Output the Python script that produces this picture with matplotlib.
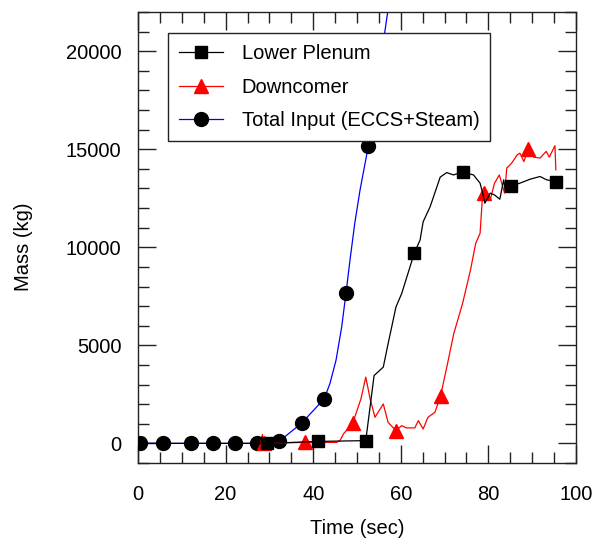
import matplotlib
matplotlib.use('Agg')
import matplotlib.pyplot as plt
from matplotlib.ticker import MultipleLocator

plt.rcParams['font.family'] = ['Liberation Sans', 'DejaVu Sans']

# Lower Plenum (black, squares)
lp_t = [0, 29.4, 41.2, 52.0, 53.9, 56.0, 57.1, 58.9, 60.2, 62.1, 63.1, 64.4, 65.1, 66.7,
        69.0, 70.5, 72.0, 74.1, 76.6, 78.1, 78.8, 79.2, 80.4, 81.4, 82.6, 83.5, 83.9,
        85.1, 87.2, 89.5, 91.8, 93.3, 95.4]
lp_m = [0, 0, 100, 140, 3460, 3890, 5080, 6960, 7640, 9000, 9720, 10370, 11300, 12070,
        13580, 13810, 13690, 13830, 13690, 13270, 12670, 12250, 12760, 12670, 12450, 13440, 12840,
        13100, 13270, 13470, 13610, 13440, 13350]
lp_mark = [0, 1, 2, 3, 10, 17, 27, 32]

# Downcomer (red, triangles)
dc_t = [28.0, 28.4, 28.8, 38.1, 45.3, 46.1, 46.9, 49.0, 50.9, 52.0, 53.0, 54.1, 56.0, 57.1,
        58.9, 60.2, 61.3, 63.2, 64.0, 65.1, 66.2, 67.8, 69.1, 70.5, 72.1, 74.1, 75.9, 77.1,
        78.1, 78.7, 79.0, 80.4, 81.4, 82.5, 83.7, 84.2, 85.3, 86.6, 87.2, 88.1, 89.1, 90.3,
        91.8, 93.2, 93.9, 95.2, 95.4]
dc_m = [0, 450, 0, 50, 50, 140, 480, 1020, 2270, 3380, 2270, 1330, 2010, 1070,
        650, 905, 790, 790, 1160, 735, 1330, 1590, 2440, 3890, 5600, 7130, 8830, 10200,
        10710, 12760, 12790, 12410, 13270, 13690, 12760, 14040, 14290, 14720, 14800, 14370, 15020, 14600,
        14550, 14890, 14600, 15180, 13950]
dc_mark = [2, 3, 7, 14, 22, 30, 40]

# Total Input (ECCS+Steam) (blue, circles)
ti_t = [0, 0.5, 5.7, 12.0, 17.2, 22.1, 27.1, 32.2, 37.4, 42.5, 43.8, 45.2, 46.5, 47.5,
        48.4, 49.5, 50.7, 52.6, 54.6, 56.6, 58.0]
ti_m = [0, 0, 0, 0, 0, 0, 0, 100, 1040, 2270, 3040, 4230, 5930, 7690,
        9350, 11240, 12930, 15180, 18300, 21370, 23500]
ti_mark = [1, 2, 3, 4, 5, 6, 7, 8, 9, 13, 17]

fig = plt.figure(figsize=(6.03, 5.47), dpi=100)
ax = fig.add_axes([0.2289, 0.1536, 0.7263, 0.8245])

ax.plot(ti_t, ti_m, color='blue', lw=0.9, marker='o', ms=10, mfc='black', mec='black',
        markevery=ti_mark, label='Total Input (ECCS+Steam)', zorder=2)
ax.plot(dc_t, dc_m, color='red', lw=0.9, marker='^', ms=9.5, mfc='red', mec='red',
        markevery=dc_mark, label='Downcomer', zorder=3)
ax.plot(lp_t, lp_m, color='black', lw=0.9, marker='s', ms=9, mfc='black', mec='black',
        markevery=lp_mark, label='Lower Plenum', zorder=4)

ax.set_xlim(0, 100)
ax.set_ylim(-1000, 22000)
ax.xaxis.set_major_locator(MultipleLocator(20))
ax.xaxis.set_minor_locator(MultipleLocator(5))
ax.yaxis.set_major_locator(MultipleLocator(5000))
ax.yaxis.set_minor_locator(MultipleLocator(1000))
ax.tick_params(which='both', direction='in', top=True, right=True, width=1,
               labelsize=14.5, color='#222222')
ax.tick_params(which='major', length=13)
ax.tick_params(which='minor', length=8)
ax.tick_params(axis='x', pad=16)
ax.tick_params(axis='y', pad=12)
for s in ax.spines.values():
    s.set_linewidth(1)
    s.set_color('#222222')

ax.set_xlabel('Time (sec)', fontsize=14.5)
ax.set_ylabel('Mass (kg)', fontsize=14.5)
ax.xaxis.set_label_coords(0.5, -0.125)
ax.yaxis.set_label_coords(-0.24, 0.48)

h, l = ax.get_legend_handles_labels()
leg = ax.legend(h[::-1], l[::-1], loc='upper left', bbox_to_anchor=(0.0685, 0.953),
                borderaxespad=0, fontsize=14.5, fancybox=False, edgecolor='#222222',
                handlelength=2.2, handletextpad=0.9, labelspacing=0.72, borderpad=0.55,
                framealpha=1)
leg.get_frame().set_linewidth(1)

plt.savefig('out.png', dpi=100)
